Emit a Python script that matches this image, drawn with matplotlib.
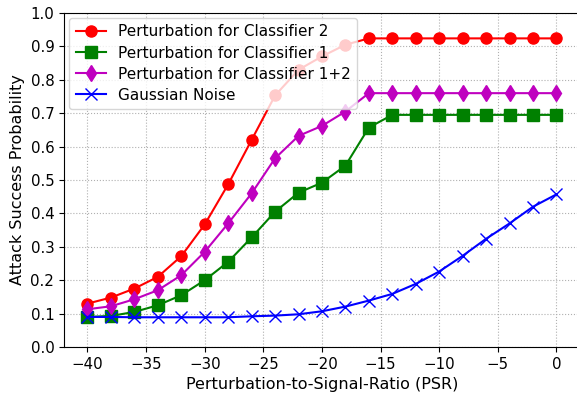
import matplotlib
matplotlib.use("Agg")
import matplotlib.pyplot as plt
import numpy as np

# ---------------- DATA ----------------

psr = list(range(-40, 1, 2))

clf2 = [0.130, 0.148, 0.175, 0.210, 0.272, 0.367, 0.487, 0.620, 0.753, 0.830,
        0.870, 0.905, 0.924, 0.924, 0.924, 0.924, 0.924, 0.924, 0.924, 0.924, 0.924]
clf1 = [0.090, 0.093, 0.105, 0.125, 0.155, 0.200, 0.255, 0.328, 0.405, 0.462,
        0.492, 0.543, 0.657, 0.695, 0.695, 0.695, 0.695, 0.695, 0.695, 0.695, 0.695]
clf12 = [0.113, 0.122, 0.143, 0.170, 0.215, 0.285, 0.370, 0.460, 0.565, 0.632,
         0.662, 0.705, 0.760, 0.760, 0.760, 0.760, 0.760, 0.760, 0.760, 0.760, 0.760]
noise = [0.090, 0.090, 0.089, 0.089, 0.089, 0.089, 0.089, 0.092, 0.094, 0.098,
         0.107, 0.121, 0.139, 0.159, 0.189, 0.226, 0.273, 0.324, 0.370, 0.420, 0.457]

labels = ["Perturbation for Classifier 2", "Perturbation for Classifier 1",
          "Perturbation for Classifier 1+2", "Gaussian Noise"]

# ---------------- PLOT ----------------

fig = plt.figure(figsize=(5.77, 3.95), dpi=100)
# axes runs slightly past the right edge, like the cropped original
ax = fig.add_axes([0.111, 0.1215, 0.894, 0.8456])
ax.spines['right'].set_visible(False)

ax.plot(psr, clf2, color='red', marker='o', markersize=8, lw=1.5, label=labels[0])
ax.plot(psr, clf1, color='green', marker='s', markersize=8, lw=1.5, label=labels[1])
ax.plot(psr, clf12, color='m', marker='d', markersize=8, lw=1.5, label=labels[2])
ax.plot(psr, noise, color='blue', marker='x', markersize=8, lw=1.5, label=labels[3])

ax.set_xlim(-42, 2)
ax.set_ylim(0, 1.0)
ax.set_xticks(range(-40, 1, 5))
ax.set_yticks(np.arange(0, 1.01, 0.1))
ax.yaxis.set_major_formatter(matplotlib.ticker.FormatStrFormatter('%.1f'))
ax.tick_params(labelsize=10.8)

ax.grid(True, linestyle=':', color='#b0b0b0')
ax.set_xlabel("Perturbation-to-Signal-Ratio (PSR)", fontsize=11.5)
ax.set_ylabel("Attack Success Probability", fontsize=11.5)
ax.legend(loc='upper left', fontsize=11, borderaxespad=0.35, labelspacing=0.4)

fig.savefig("out.png", dpi=100)
